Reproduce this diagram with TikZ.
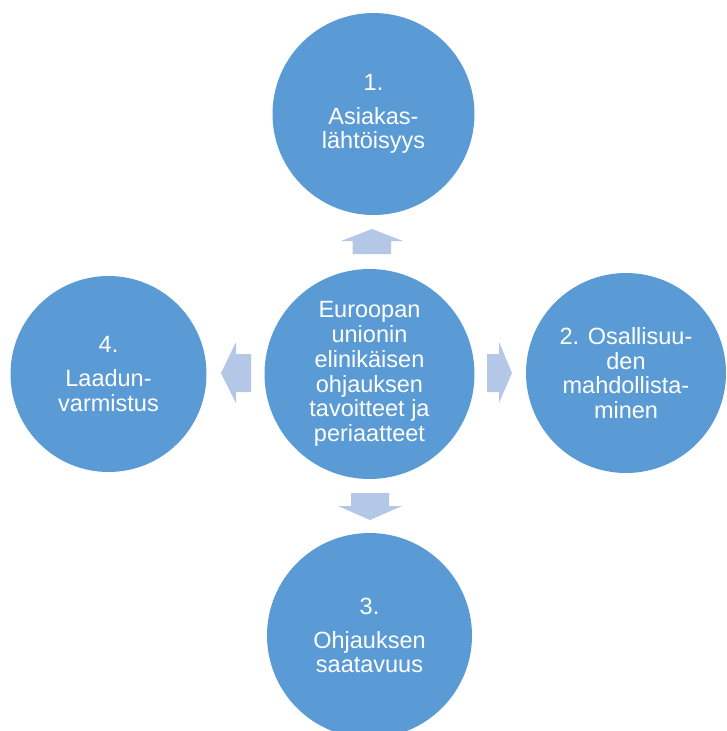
\documentclass[tikz,border=0pt]{standalone}
\usepackage{fontspec}
\setmainfont{Liberation Sans}
\definecolor{circblue}{HTML}{5B9BD5}
\definecolor{arrowblue}{HTML}{B4C7E7}
\tikzset{
  circ/.style={circle, fill=circblue, draw=none, inner sep=0pt, align=center,
    text=white, font=\fontsize{23.5}{24.8}\selectfont},
  blockarrow/.style={fill=arrowblue, draw=none}
}
\begin{document}
\begin{tikzpicture}[x=1pt,y=-1pt]
\useasboundingbox (0,0) rectangle (726,731);
\clip (0,0) rectangle (726,731);
\node[circ, minimum size=202pt] (n1) at (373.5,114) {1.\\[9pt]Asiakas-\\lähtöisyys};
\node[circ, minimum size=210pt] (c) at (369.5,374) {Euroopan\\unionin\\elinikäisen\\ohjauksen\\tavoitteet ja\\periaatteet};
\node[circ, minimum size=196pt] (n4) at (108.5,374) {4.\\[9pt]Laadun-\\varmistus};
\node[circ, minimum size=200pt] (n2) at (626,373) {2. Osallisuu-\\den\\mahdollista-\\minen};
\node[circ, minimum size=205pt] (n3) at (369.5,635.5) {3.\\[9pt]Ohjauksen\\saatavuus};
% block arrows
\fill[blockarrow] (352.7,254) -- (352.7,241) -- (341,241) -- (372,229) -- (403,241) -- (391,241) -- (391,254) -- cycle;
\fill[blockarrow] (251,354) -- (236,354) -- (236,342) -- (221,373) -- (236,403) -- (236,392) -- (251,392) -- cycle;
\fill[blockarrow] (487,354) -- (499,354) -- (499,342) -- (512,373) -- (499,403) -- (499,392) -- (487,392) -- cycle;
\fill[blockarrow] (351,493) -- (389,493) -- (389,506) -- (402,506) -- (370,520) -- (338,506) -- (351,506) -- cycle;
\end{tikzpicture}
\end{document}
